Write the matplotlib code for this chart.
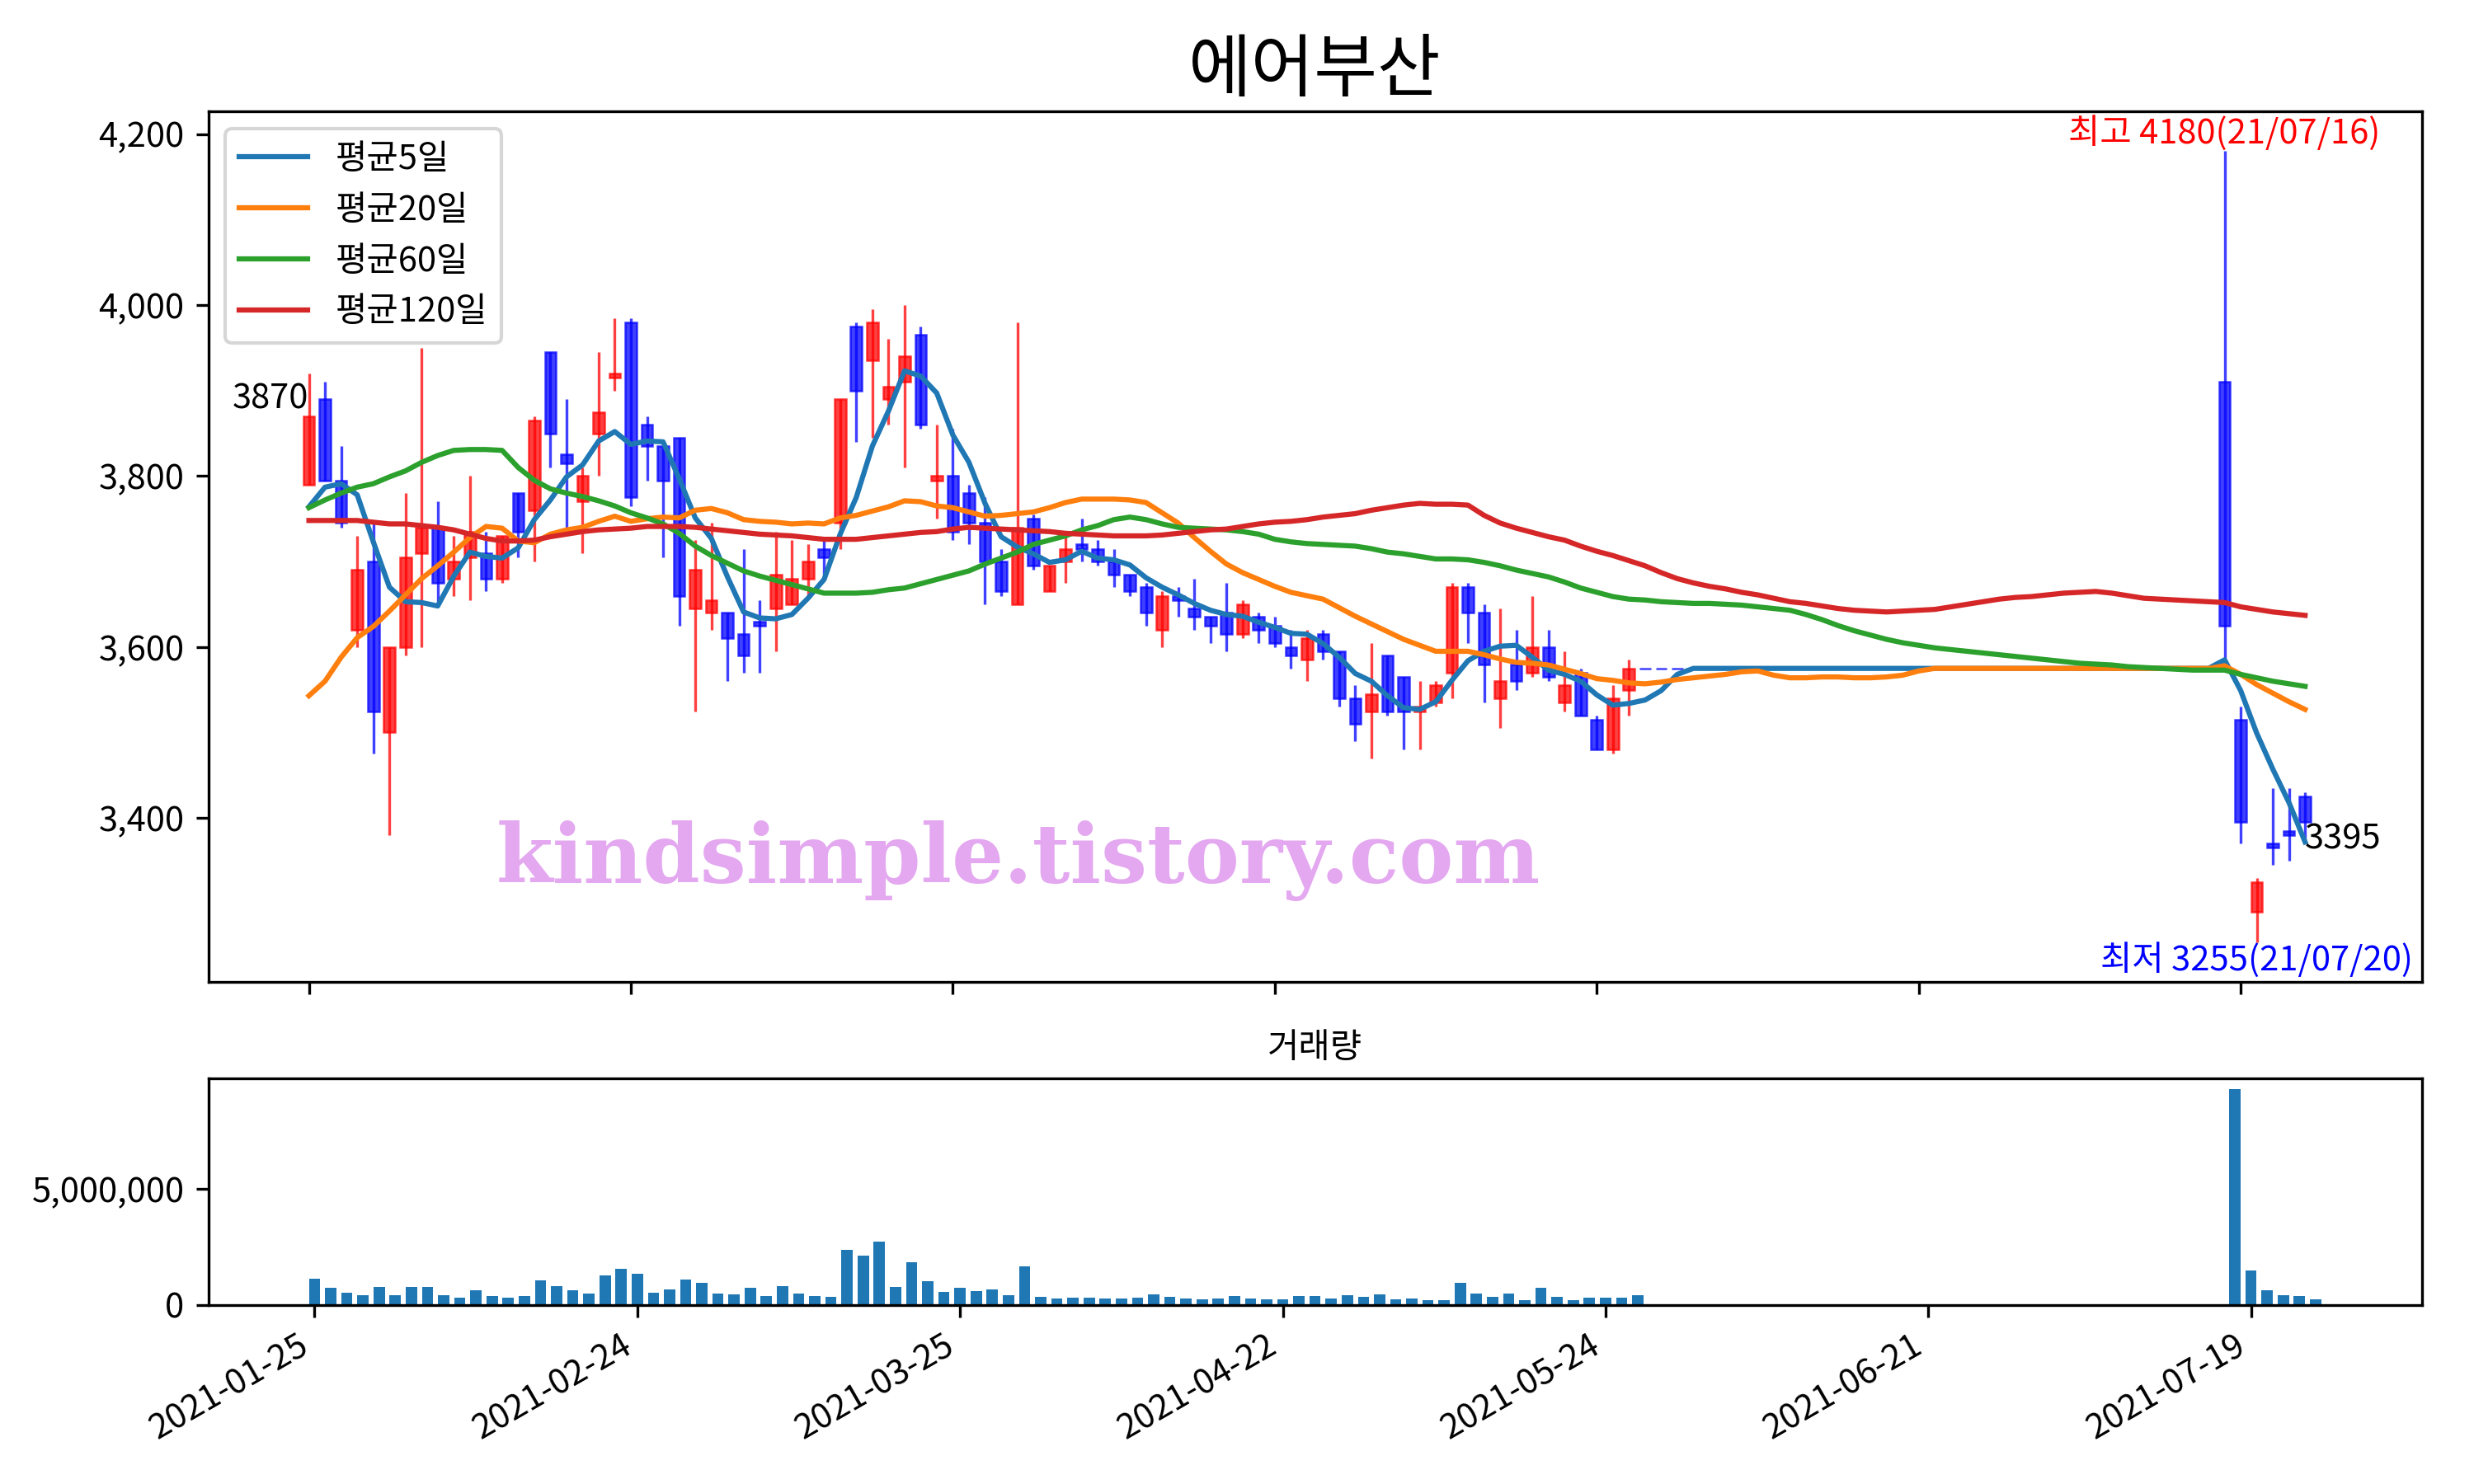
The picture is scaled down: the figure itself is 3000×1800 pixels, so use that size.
import matplotlib
matplotlib.use('Agg')
import matplotlib.pyplot as plt
from matplotlib.ticker import FuncFormatter

plt.rcParams['font.family'] = ['Noto Sans CJK KR', 'DejaVu Sans']
plt.rcParams['axes.unicode_minus'] = False

title = '에어부산'

# trading-day positions that have a candle (trading halt 86..118 has none)
day_pos = list(range(0, 86)) + list(range(119, 125))

opens = [3790, 3890, 3795, 3620, 3700, 3500, 3600, 3710, 3740, 3680,
         3705, 3710, 3680, 3780, 3760, 3945, 3825, 3770, 3850, 3915,
         3980, 3860, 3835, 3845, 3645, 3640, 3640, 3615, 3630, 3645,
         3650, 3680, 3715, 3745, 3975, 3935, 3890, 3910, 3965, 3795,
         3800, 3780, 3745, 3700, 3650, 3750, 3665, 3700, 3720, 3715,
         3700, 3685, 3670, 3620, 3660, 3645, 3635, 3640, 3615, 3635,
         3625, 3600, 3585, 3615, 3595, 3540, 3525, 3590, 3565, 3525,
         3535, 3570, 3670, 3640, 3540, 3580, 3570, 3600, 3535, 3570,
         3515, 3480, 3550, 3575, 3575, 3575,
         3910, 3515, 3290, 3370, 3385, 3425]
highs = [3920, 3910, 3835, 3730, 3745, 3600, 3780, 3950, 3770, 3730,
         3800, 3735, 3730, 3780, 3870, 3945, 3890, 3810, 3945, 3985,
         3985, 3870, 3835, 3845, 3725, 3745, 3640, 3715, 3655, 3735,
         3725, 3720, 3725, 3890, 3980, 3995, 3960, 4000, 3975, 3860,
         3855, 3790, 3775, 3715, 3980, 3755, 3695, 3730, 3750, 3725,
         3715, 3685, 3675, 3665, 3670, 3680, 3635, 3675, 3655, 3640,
         3635, 3620, 3620, 3620, 3595, 3555, 3605, 3590, 3565, 3560,
         3560, 3675, 3675, 3650, 3645, 3620, 3660, 3620, 3595, 3575,
         3520, 3555, 3585, 3575, 3575, 3575,
         4180, 3530, 3330, 3435, 3435, 3430]
lows = [3790, 3795, 3740, 3600, 3475, 3380, 3590, 3600, 3650, 3660,
        3655, 3665, 3675, 3705, 3700, 3810, 3740, 3710, 3800, 3900,
        3765, 3795, 3705, 3625, 3525, 3620, 3560, 3570, 3570, 3595,
        3650, 3660, 3685, 3715, 3840, 3845, 3860, 3810, 3855, 3750,
        3725, 3720, 3650, 3660, 3650, 3690, 3665, 3675, 3700, 3695,
        3670, 3660, 3625, 3600, 3635, 3620, 3605, 3595, 3610, 3605,
        3600, 3575, 3560, 3585, 3530, 3490, 3470, 3520, 3480, 3480,
        3530, 3540, 3605, 3535, 3505, 3550, 3565, 3560, 3525, 3520,
        3480, 3475, 3520, 3575, 3575, 3575,
        3585, 3370, 3255, 3345, 3350, 3375]
closes = [3870, 3795, 3745, 3690, 3525, 3600, 3705, 3740, 3675, 3700,
          3735, 3680, 3730, 3735, 3865, 3850, 3815, 3800, 3875, 3920,
          3775, 3835, 3795, 3660, 3690, 3655, 3610, 3590, 3625, 3685,
          3680, 3700, 3705, 3890, 3900, 3980, 3905, 3940, 3860, 3800,
          3735, 3745, 3700, 3665, 3740, 3695, 3695, 3715, 3715, 3700,
          3685, 3665, 3640, 3660, 3655, 3635, 3625, 3615, 3650, 3620,
          3605, 3590, 3610, 3595, 3540, 3510, 3545, 3525, 3525, 3530,
          3555, 3670, 3640, 3580, 3560, 3560, 3600, 3565, 3555, 3520,
          3480, 3540, 3575, 3575, 3575, 3575,
          3625, 3395, 3325, 3365, 3380, 3395]

# moving averages, one value per trading day 0..124
ma5 = [3764, 3787, 3791, 3778, 3723, 3670, 3653, 3652, 3648, 3683,
       3711, 3706, 3704, 3716, 3749, 3772, 3799, 3813, 3841, 3852,
       3837, 3841, 3840, 3797, 3751, 3727, 3682, 3641, 3634, 3633,
       3638, 3657, 3679, 3732, 3775, 3835, 3876, 3923, 3917, 3897,
       3848, 3816, 3768, 3729, 3717, 3709, 3699, 3702, 3712, 3704,
       3702, 3696, 3681, 3670, 3661, 3651, 3643, 3638, 3636, 3629,
       3623, 3616, 3615, 3604, 3588, 3569, 3560, 3543, 3529, 3527,
       3536, 3561, 3584, 3595, 3601, 3602, 3588, 3573, 3568, 3560,
       3544, 3532, 3534, 3538, 3549, 3568, 3575, 3575, 3575, 3575,
       3575, 3575, 3575, 3575, 3575, 3575, 3575, 3575, 3575, 3575,
       3575, 3575, 3575, 3575, 3575, 3575, 3575, 3575, 3575, 3575,
       3575, 3575, 3575, 3575, 3575, 3575, 3575, 3575, 3575, 3585,
       3549, 3499, 3457, 3418, 3372]
ma20 = [3543, 3560, 3588, 3611, 3624, 3642, 3661, 3680, 3695, 3711,
        3728, 3741, 3739, 3724, 3722, 3732, 3737, 3740, 3747, 3753,
        3747, 3750, 3752, 3751, 3760, 3762, 3757, 3749, 3747, 3746,
        3744, 3745, 3744, 3751, 3754, 3759, 3764, 3771, 3770, 3765,
        3763, 3758, 3753, 3754, 3756, 3758, 3763, 3769, 3773, 3773,
        3773, 3772, 3769, 3757, 3745, 3728, 3712, 3697, 3687, 3679,
        3671, 3664, 3660, 3656, 3646, 3636, 3627, 3618, 3609, 3602,
        3595, 3595, 3595, 3591, 3586, 3582, 3581, 3579, 3574, 3569,
        3563, 3561, 3558, 3557, 3559, 3562, 3564, 3566, 3568, 3571,
        3572, 3567, 3564, 3564, 3565, 3565, 3564, 3564, 3565, 3567,
        3572, 3575, 3575, 3575, 3575, 3575, 3575, 3575, 3575, 3575,
        3575, 3575, 3575, 3575, 3575, 3575, 3575, 3575, 3575, 3578,
        3568, 3556, 3546, 3536, 3527]
ma60 = [3763, 3772, 3780, 3787, 3791, 3799, 3806, 3816, 3824, 3830,
        3831, 3831, 3830, 3810, 3795, 3785, 3780, 3776, 3771, 3765,
        3757, 3751, 3744, 3733, 3718, 3707, 3698, 3689, 3683, 3678,
        3673, 3668, 3663, 3663, 3663, 3664, 3667, 3669, 3674, 3679,
        3684, 3689, 3697, 3704, 3711, 3720, 3725, 3730, 3737, 3742,
        3749, 3752, 3749, 3744, 3740, 3739, 3738, 3737, 3735, 3732,
        3726, 3723, 3721, 3720, 3719, 3718, 3715, 3711, 3709, 3706,
        3703, 3703, 3702, 3699, 3695, 3690, 3686, 3682, 3676, 3669,
        3664, 3659, 3656, 3655, 3653, 3652, 3651, 3651, 3650, 3649,
        3647, 3645, 3643, 3638, 3632, 3625, 3619, 3614, 3609, 3605,
        3602, 3599, 3597, 3595, 3593, 3591, 3589, 3587, 3585, 3583,
        3581, 3580, 3579, 3577, 3576, 3575, 3574, 3573, 3573, 3573,
        3568, 3564, 3560, 3557, 3554]
ma120 = [3748, 3748, 3748, 3748, 3746, 3744, 3744, 3742, 3740, 3737,
         3732, 3727, 3724, 3724, 3725, 3729, 3732, 3735, 3737, 3738,
         3739, 3741, 3741, 3741, 3740, 3738, 3736, 3734, 3732, 3731,
         3730, 3728, 3726, 3726, 3726, 3728, 3730, 3732, 3734, 3735,
         3738, 3740, 3739, 3738, 3737, 3736, 3735, 3733, 3732, 3731,
         3730, 3730, 3730, 3731, 3733, 3735, 3737, 3738, 3741, 3744,
         3746, 3747, 3749, 3752, 3754, 3756, 3760, 3763, 3766, 3768,
         3767, 3767, 3766, 3754, 3745, 3739, 3734, 3729, 3725, 3718,
         3712, 3707, 3701, 3695, 3687, 3680, 3675, 3671, 3668, 3664,
         3661, 3657, 3653, 3651, 3648, 3645, 3643, 3642, 3641, 3642,
         3643, 3644, 3647, 3650, 3653, 3656, 3658, 3659, 3661, 3663,
         3664, 3665, 3663, 3660, 3657, 3656, 3655, 3654, 3653, 3652,
         3647, 3644, 3641, 3639, 3637]

# volume (days with trades only)
vol_pos = list(range(0, 83)) + list(range(119, 125))
volume = [1120000, 733000, 520000, 414000, 768000, 414000, 768000, 768000, 414000, 307000,
          626000, 378000, 307000, 378000, 1052000, 804000, 626000, 485000, 1265000, 1548000,
          1336000, 520000, 662000, 1087000, 946000, 485000, 449000, 733000, 378000, 804000,
          485000, 378000, 343000, 2364000, 2116000, 2719000, 768000, 1832000, 1017000, 556000,
          733000, 591000, 662000, 414000, 1655000, 343000, 272000, 307000, 307000, 272000,
          272000, 307000, 449000, 343000, 272000, 236000, 272000, 378000, 272000, 236000,
          236000, 378000, 378000, 272000, 414000, 343000, 449000, 236000, 272000, 200000,
          200000, 946000, 485000, 343000, 485000, 200000, 733000, 343000, 200000, 307000,
          307000, 307000, 414000,
          9279000, 1478000, 626000, 414000, 378000, 236000]

tick_pos = [0, 20, 40, 60, 80, 100, 120]
tick_labels = ['2021-01-25', '2021-02-24', '2021-03-25', '2021-04-22',
               '2021-05-24', '2021-06-21', '2021-07-19']

fig = plt.figure(figsize=(10, 6), dpi=300)
ax = fig.add_axes([0.0842, 0.3386, 0.8947, 0.5862])
ax2 = fig.add_axes([0.0842, 0.1207, 0.8947, 0.1525])

# candles: red up, blue down
for i, o, h, l, c in zip(day_pos, opens, highs, lows, closes):
    col = 'r' if c > o else 'b'
    ax.vlines(i, l, h, color=col, linewidth=0.8, alpha=0.75)
    ax.bar(i, abs(c - o), bottom=min(o, c), width=0.7, color=col,
           edgecolor=col, linewidth=0.6, alpha=0.75)

days = list(range(len(ma5)))
ax.plot(days, ma5, label='평균5일')
ax.plot(days, ma20, label='평균20일')
ax.plot(days, ma60, label='평균60일')
ax.plot(days, ma120, label='평균120일')
ax.legend(loc='upper left')

# first / last close, max / min
ax.text(day_pos[0], closes[0], str(closes[0]), ha='right', va='bottom')
ax.text(day_pos[-1], closes[-1], str(closes[-1]), ha='left', va='top')
hi = highs.index(max(highs))
lo = lows.index(min(lows))
ax.text(day_pos[hi], highs[hi], '최고 %d(21/07/16)' % highs[hi], color='r',
        ha='center', va='bottom')
ax.text(day_pos[lo], lows[lo], '최저 %d(21/07/20)' % lows[lo], color='b',
        ha='center', va='top')

ax.text(0.13, 0.113, 'kindsimple.tistory.com', transform=ax.transAxes,
        fontsize=23.8, color='#e4a8f0', fontweight='bold', family='DejaVu Serif',
        va='baseline', zorder=0)

ax.set_title(title, fontsize=20)
ax.set_xlim(-6.25, 131.25)
ax.set_ylim(3208.75, 4226.25)
ax.set_yticks([3400, 3600, 3800, 4000, 4200])
ax.yaxis.set_major_formatter(FuncFormatter(lambda v, p: '{:,.0f}'.format(v)))
ax.set_xticks(tick_pos)
ax.tick_params(axis='x', labelbottom=False)

# volume
ax2.bar(vol_pos, volume, width=0.7, color='#1f77b4')
ax2.set_title('거래량', fontsize=10)
ax2.set_xticks(tick_pos)
ax2.set_xticklabels(tick_labels, rotation=30, ha='right')
ax2.set_yticks([0, 5000000])
ax2.yaxis.set_major_formatter(FuncFormatter(lambda v, p: '{:,.0f}'.format(v)))

fig.savefig('out.png', dpi=300)
